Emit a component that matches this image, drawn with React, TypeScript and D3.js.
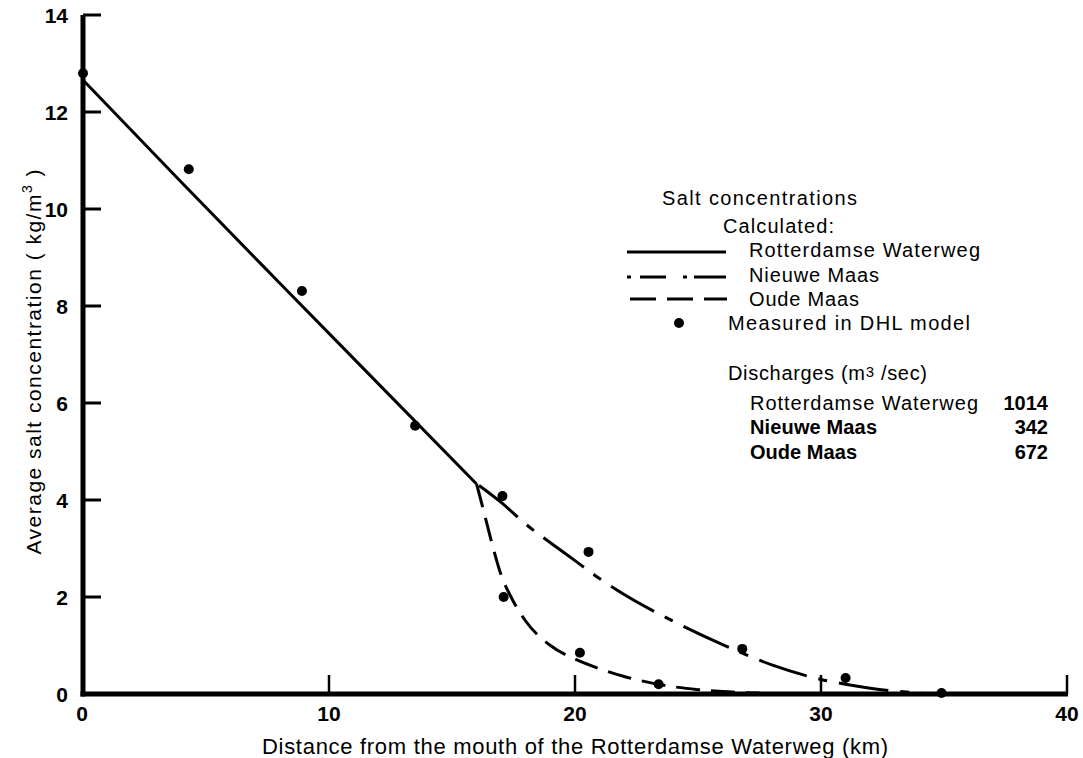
import React from 'react';
import * as d3 from 'd3';

// ---- data ----
const xTickValues = [0, 10, 20, 30, 40];
const yTickValues = [0, 2, 4, 6, 8, 10, 12, 14];

// Calculated: Rotterdamse Waterweg (solid)
const rwX = [0, 4, 8, 12, 16];
const rwY = [12.66, 10.55, 8.47, 6.4, 4.33];

// Calculated: Nieuwe Maas (dash-dot)
const nmX = [16.1, 17, 18, 19, 20, 20.8, 22, 24, 26, 28, 30, 31, 32, 33, 34, 35];
const nmY = [4.3, 3.95, 3.5, 3.12, 2.75, 2.45, 2.05, 1.5, 1.02, 0.6, 0.3, 0.2, 0.12, 0.06, 0.02, 0];

// Calculated: Oude Maas (dashed)
const omX = [16.0, 16.3, 16.6, 17.0, 17.4, 18.0, 19.0, 20.0, 21.0, 22.0, 23.0, 24.0, 25.0, 26.0, 27.5];
const omY = [4.33, 3.75, 3.15, 2.45, 2.0, 1.5, 1.0, 0.72, 0.52, 0.36, 0.24, 0.15, 0.09, 0.05, 0.02];

// Measured in DHL model
const measuredX = [0, 4.3, 8.9, 13.5, 17.05, 17.1, 20.2, 20.55, 23.4, 26.8, 31.0, 34.9];
const measuredY = [12.8, 10.82, 8.31, 5.53, 4.08, 2.0, 0.85, 2.93, 0.2, 0.93, 0.33, 0.02];

const legendTitle = 'Salt concentrations';
const legendSub = 'Calculated:';
const legendLabels = ['Rotterdamse Waterweg', 'Nieuwe Maas', 'Oude Maas', 'Measured in DHL model'];
const dischargeNames = ['Rotterdamse Waterweg', 'Nieuwe Maas', 'Oude Maas'];
const dischargeValues = ['1014', '342', '672'];

const xTitle = 'Distance from the mouth of the Rotterdamse Waterweg (km)';

const FONT = '"Liberation Sans", Arial, Helvetica, sans-serif';
const DASH_NM = '50 12 9 12';
const DASH_OM = '24 11';

export default function App() {
  const W = 1083;
  const H = 758;
  const x = d3.scaleLinear().domain([0, 40]).range([83, 1067]);
  const y = d3.scaleLinear().domain([0, 14]).range([694, 15]);

  const line = d3
    .line<[number, number]>()
    .x((d) => x(d[0]))
    .y((d) => y(d[1]))
    .curve(d3.curveMonotoneX);

  const zip = (a: number[], b: number[]) => a.map((v, i) => [v, b[i]] as [number, number]);

  const rwPath = line(zip(rwX, rwY)) || '';
  const nmPath = line(zip(nmX, nmY)) || '';
  const omPath = line(zip(omX, omY)) || '';

  const x0 = x(0);
  const y0 = y(0);

  // legend layout
  const lgLineX1 = 627;
  const lgLineX2 = 726;
  const lgTextX = 749;
  const lgRows = [257, 282, 306, 330];

  const disRows = [410, 434, 459];

  return (
    <svg
      width={W}
      height={H}
      viewBox={`0 0 ${W} ${H}`}
      style={{ position: 'absolute', left: 0, top: 0, background: '#fff', display: 'block' }}
      fontFamily={FONT}
    >
      <rect x={0} y={0} width={W} height={H} fill="#fff" />

      {/* axes */}
      <line x1={x0} x2={x0} y1={y0 + 2.5} y2={y(14)} stroke="#000" strokeWidth={5} />
      <line x1={x0 - 2.5} x2={x(40) + 1} y1={y0} y2={y0} stroke="#000" strokeWidth={5} />
      {yTickValues
        .filter((v) => v > 0)
        .map((v) => (
          <line key={'yt' + v} x1={x0} x2={x0 + 18} y1={y(v)} y2={y(v)} stroke="#000" strokeWidth={3} />
        ))}
      {xTickValues
        .filter((v) => v > 0)
        .map((v) => (
          <line key={'xt' + v} x1={x(v)} x2={x(v)} y1={y0} y2={y0 - 19} stroke="#000" strokeWidth={2.5} />
        ))}

      {/* tick labels */}
      {yTickValues.map((v) => (
        <text
          key={'yl' + v}
          x={68}
          y={y(v) + 7.5}
          textAnchor="end"
          fontSize={21}
          fontWeight="bold"
          fill="#000"
        >
          {v}
        </text>
      ))}
      {xTickValues.map((v) => (
        <text
          key={'xl' + v}
          x={x(v) - (v === 0 ? 1 : 0)}
          y={721}
          textAnchor="middle"
          fontSize={21}
          fontWeight="bold"
          fill="#000"
        >
          {v}
        </text>
      ))}

      {/* axis titles */}
      <text
        x={575}
        y={754}
        textAnchor="middle"
        fontSize={22}
        textLength={626}
        lengthAdjust="spacing"
        fill="#000"
      >
        {xTitle}
      </text>
      <text
        transform="translate(41,362) rotate(-90)"
        textAnchor="middle"
        fontSize={21}
        textLength={385}
        lengthAdjust="spacing"
        fill="#000"
      >
        {'Average salt concentration ( kg/m'}
        <tspan fontSize={14} dy={-9}>
          3
        </tspan>
        <tspan dy={9}>{' )'}</tspan>
      </text>

      {/* calculated lines */}
      <path d={rwPath} fill="none" stroke="#000" strokeWidth={3} />
      <path d={nmPath} fill="none" stroke="#000" strokeWidth={3} strokeDasharray={DASH_NM} />
      <path d={omPath} fill="none" stroke="#000" strokeWidth={3} strokeDasharray={DASH_OM} />

      {/* measured points */}
      {measuredX.map((mx, i) => (
        <circle key={'m' + i} cx={x(mx)} cy={y(measuredY[i])} r={5} fill="#000" />
      ))}

      {/* legend */}
      <text x={662} y={205} fontSize={20} textLength={195} lengthAdjust="spacing" fill="#000">
        {legendTitle}
      </text>
      <text x={723} y={233} fontSize={20} textLength={111} lengthAdjust="spacing" fill="#000">
        {legendSub}
      </text>
      <line x1={lgLineX1} x2={lgLineX2} y1={lgRows[0] - 5} y2={lgRows[0] - 5} stroke="#000" strokeWidth={3} />
      <line
        x1={lgLineX1}
        x2={lgLineX2}
        y1={lgRows[1] - 5}
        y2={lgRows[1] - 5}
        stroke="#000"
        strokeWidth={3}
        strokeDasharray="4 9 26 17 4 7 32"
      />
      <line
        x1={lgLineX1 + 3}
        x2={lgLineX2 + 1}
        y1={lgRows[2] - 7}
        y2={lgRows[2] - 7}
        stroke="#000"
        strokeWidth={3}
        strokeDasharray="26 11"
      />
      <circle cx={679} cy={lgRows[3] - 7} r={5} fill="#000" />
      {legendLabels.map((t, i) => (
        <text
          key={'lg' + i}
          x={i === 3 ? 728 : lgTextX}
          y={lgRows[i]}
          fontSize={20}
          textLength={[231, 130, 110, 242][i]}
          lengthAdjust="spacing"
          fill="#000"
        >
          {t}
        </text>
      ))}

      {/* discharges */}
      <text x={728} y={380} fontSize={20} textLength={199} lengthAdjust="spacing" fill="#000">
        {'Discharges (m'}
        <tspan fontSize={15} dy={-3}>
          3
        </tspan>
        <tspan dy={3}>{' /sec)'}</tspan>
      </text>
      {dischargeNames.map((t, i) => (
        <text
          key={'dn' + i}
          x={750}
          y={disRows[i]}
          fontSize={20}
          textLength={[228, 127, 107][i]}
          lengthAdjust="spacing"
          fontWeight={i === 0 ? 'normal' : 'bold'}
          fill="#000"
        >
          {t}
        </text>
      ))}
      {dischargeValues.map((t, i) => (
        <text
          key={'dv' + i}
          x={1048}
          y={disRows[i]}
          fontSize={20}
          textAnchor="end"
          fontWeight="bold"
          fill="#000"
        >
          {t}
        </text>
      ))}
    </svg>
  );
}
